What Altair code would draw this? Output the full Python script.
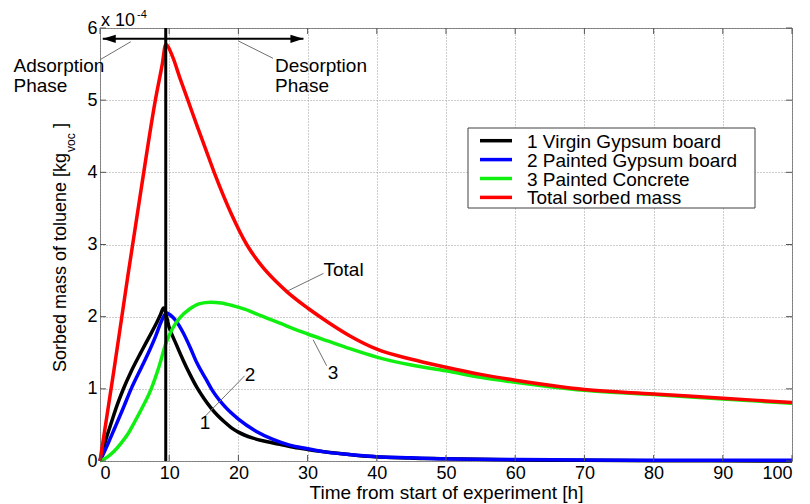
import altair as alt
import pandas as pd

# ---------------- data (mass in 1e-4 kg) ----------------
series_names = ["1 Virgin Gypsum board", "2 Painted Gypsum board",
                "3 Painted Concrete", "Total sorbed mass"]
series_colors = ["#000000", "#0000ff", "#10f010", "#ff0000"]

t_virgin = [0, 0.8, 1.7, 2.5, 3.3, 4.5, 6, 7, 8, 8.7, 9.2, 10, 11, 12, 13, 14, 15,
            16, 17, 18, 19, 20, 22, 24, 26, 28, 30, 34, 38, 42, 50, 60, 70, 80, 100]
m_virgin = [0, 0.28, 0.55, 0.78, 0.98, 1.24, 1.52, 1.7, 1.88, 2.02, 2.12, 1.85,
            1.62, 1.4, 1.2, 1.02, 0.87, 0.74, 0.63, 0.54, 0.46, 0.4, 0.32, 0.27,
            0.23, 0.19, 0.16, 0.11, 0.07, 0.05, 0.03, 0.015, 0.01, 0.005, 0.0]

t_painted = [0, 1.2, 2.1, 3.3, 4.5, 6, 7, 8, 8.8, 9.6, 10.2, 11, 12, 13, 14, 15.4,
             16.1, 17.8, 20, 22.6, 25, 27.4, 30, 32.2, 36, 40, 45, 50, 60, 70, 80, 100]
m_painted = [0, 0.25, 0.45, 0.72, 1.0, 1.3, 1.5, 1.72, 1.92, 2.05, 2.02, 1.94, 1.78,
             1.58, 1.36, 1.12, 1.0, 0.78, 0.58, 0.41, 0.3, 0.22, 0.17, 0.13, 0.09,
             0.06, 0.045, 0.03, 0.02, 0.015, 0.01, 0.01]

t_concrete = [0, 1, 2, 3, 4, 5, 6, 7.4, 8.5, 9.6, 10.5, 11.5, 13, 14.4, 16, 17.5,
              19.3, 21, 22.6, 24.1, 26, 28, 30, 33, 36, 40, 45, 50, 55, 60, 65, 70,
              80, 90, 100]
m_concrete = [0, 0.05, 0.13, 0.24, 0.37, 0.54, 0.72, 1.0, 1.3, 1.65, 1.84, 1.98,
              2.11, 2.18, 2.2, 2.19, 2.15, 2.1, 2.04, 1.98, 1.91, 1.83, 1.76, 1.66,
              1.56, 1.44, 1.33, 1.25, 1.16, 1.09, 1.03, 0.98, 0.92, 0.86, 0.80]

t_total = [0, 2, 4, 6, 8, 9, 9.5, 10.5, 11.5, 12.7, 14, 15.2, 16.5, 19, 21.2, 23.4,
           25.3, 27.2, 30, 33, 36, 40, 45, 50, 55, 60, 65, 70, 80, 90, 100]
m_total = [0, 1.25, 2.55, 3.8, 5.0, 5.5, 5.77, 5.6, 5.32, 5.0, 4.65, 4.34, 4.0,
           3.42, 3.0, 2.7, 2.5, 2.33, 2.12, 1.92, 1.74, 1.55, 1.41, 1.3, 1.2, 1.12,
           1.05, 0.99, 0.93, 0.87, 0.81]

phase_switch_t = 9.5          # vertical line (end of adsorption)
arrow_t = [0.4, 29.4]
arrow_m = 5.85

x_ticks = list(range(0, 101, 10))
y_ticks = [0, 1, 2, 3, 4, 5, 6]

ann_labels = ["Adsorption\nPhase", "Desorption\nPhase", "Total", "3", "2", "1"]
ann_t = [-12.5, 25.3, 32.3, 32.9, 20.9, 14.4]
ann_m = [5.39, 5.39, 2.56, 1.14, 1.11, 0.44]

lead_t0 = [0.0, 20.0, 27.2, 30.8, 15.2]
lead_m0 = [5.56, 5.82, 2.36, 1.68, 0.62]
lead_t1 = [4.45, 25.0, 32.3, 32.75, 20.9]
lead_m1 = [5.81, 5.58, 2.6, 1.32, 1.18]

# ---------------- build tables ----------------
rows = []
for name, ts, ms in zip(series_names,
                        [t_virgin, t_painted, t_concrete, t_total],
                        [m_virgin, m_painted, m_concrete, m_total]):
    for t, m in zip(ts, ms):
        rows.append({"series": name, "t": t, "m": m})
df = pd.DataFrame(rows)

FONT = "Liberation Sans"
FS = 18
FS_T = 19
W, H = 692, 433
TICK = 6
OY = 2  # vertical offset of pixel-placed items (plot top sits at page y 28)

xs = alt.Scale(domain=[0, 100], nice=False, zero=False)
ys = alt.Scale(domain=[0, 6], nice=False, zero=False)
cs = alt.Scale(domain=series_names, range=series_colors)

xaxis = alt.Axis(values=x_ticks, grid=True, gridDash=[1, 2], gridColor="#9a9a9a",
                 domain=False, ticks=False, labelFontSize=FS, labelPadding=3,
                 labelColor="black", labelFont=FONT,
                 title="Time from start of experiment [h]", titleFontSize=FS_T,
                 titleFontWeight="normal", titleFont=FONT, titleColor="black",
                 titlePadding=1)
yaxis = alt.Axis(values=y_ticks, grid=True, gridDash=[1, 2], gridColor="#9a9a9a",
                 domain=False, ticks=False, labelFontSize=FS, labelPadding=3,
                 labelColor="black", labelFont=FONT, title=None)


def X(f):
    return alt.X(f, scale=xs, axis=xaxis)


def Y(f):
    return alt.Y(f, scale=ys, axis=yaxis)


base = alt.Chart(df)

layers = []
for name in series_names:
    layers.append(base.transform_filter(alt.datum.series == name)
                  .mark_line(strokeWidth=3.5, interpolate="monotone").encode(
        x=X("t:Q"), y=Y("m:Q"),
        color=alt.Color("series:N", scale=cs, legend=None),
        order="t:Q"))

# inward ticks on the box
xt_df = pd.DataFrame({"v": x_ticks})
yt_df = pd.DataFrame({"v": y_ticks})
tick_style = dict(color="#555555", strokeWidth=1)
ticks_b = alt.Chart(xt_df).mark_rule(**tick_style).encode(
    x=X("v:Q"), y=alt.value(H), y2=alt.value(H - TICK))
ticks_t = alt.Chart(xt_df).mark_rule(**tick_style).encode(
    x=X("v:Q"), y=alt.value(0), y2=alt.value(TICK))
ticks_l = alt.Chart(yt_df).mark_rule(**tick_style).encode(
    y=Y("v:Q"), x=alt.value(0), x2=alt.value(TICK))
ticks_r = alt.Chart(yt_df).mark_rule(**tick_style).encode(
    y=Y("v:Q"), x=alt.value(W), x2=alt.value(W - TICK))

# vertical phase line
vline = alt.Chart(pd.DataFrame({"t": [phase_switch_t], "a": [0], "b": [6]})).mark_rule(
    color="black", strokeWidth=3).encode(x=X("t:Q"), y=Y("a:Q"), y2="b:Q")

# arrow
arrow_df = pd.DataFrame({"t0": [arrow_t[0]], "t1": [arrow_t[1]], "m": [arrow_m]})
arrow_line = alt.Chart(arrow_df).mark_rule(color="black", strokeWidth=2).encode(
    x=X("t0:Q"), x2="t1:Q", y=Y("m:Q"))
head_l = alt.Chart(pd.DataFrame({"t": [arrow_t[0]], "m": [arrow_m]})).mark_point(
    shape="M0,0L1,-0.32L1,0.32Z", filled=True, size=676, color="black", opacity=1,
    strokeWidth=0).encode(x=X("t:Q"), y=Y("m:Q"))
head_r = alt.Chart(pd.DataFrame({"t": [arrow_t[1]], "m": [arrow_m]})).mark_point(
    shape="M0,0L-1,-0.32L-1,0.32Z", filled=True, size=676, color="black", opacity=1,
    strokeWidth=0).encode(x=X("t:Q"), y=Y("m:Q"))

# leader lines
lead_df = pd.DataFrame({"t0": lead_t0, "m0": lead_m0, "t1": lead_t1, "m1": lead_m1})
leaders = alt.Chart(lead_df).mark_rule(color="#707070", strokeWidth=1).encode(
    x=X("t0:Q"), y=Y("m0:Q"), x2="t1:Q", y2="m1:Q")

# annotation texts
ann_df = pd.DataFrame({"label": ann_labels, "t": ann_t, "m": ann_m})
ann = alt.Chart(ann_df).mark_text(align="left", baseline="alphabetic", fontSize=FS_T,
                                  font=FONT, color="black", lineBreak="\n",
                                  lineHeight=20).encode(
    x=X("t:Q"), y=Y("m:Q"), text="label:N")

# exponent label
exp_main = alt.Chart(pd.DataFrame({"s": ["x 10"]})).mark_text(
    align="left", baseline="alphabetic", fontSize=18, font=FONT, color="black").encode(
    x=alt.value(1), y=alt.value(-4 + OY), text="s:N")
exp_sup = alt.Chart(pd.DataFrame({"s": ["-4"]})).mark_text(
    align="left", baseline="alphabetic", fontSize=11, font=FONT, color="black").encode(
    x=alt.value(37), y=alt.value(-12 + OY), text="s:N")

# y axis title with subscript
yt1 = alt.Chart(pd.DataFrame({"s": ["Sorbed mass of toluene [kg"]})).mark_text(
    align="left", baseline="alphabetic", angle=270, fontSize=FS, font=FONT,
    color="black").encode(x=alt.value(-34), y=alt.value(342 + OY), text="s:N")
yt2 = alt.Chart(pd.DataFrame({"s": ["voc"]})).mark_text(
    align="left", baseline="alphabetic", angle=270, fontSize=12, font=FONT,
    color="black").encode(x=alt.value(-25), y=alt.value(122 + OY), text="s:N")
yt3 = alt.Chart(pd.DataFrame({"s": ["]"]})).mark_text(
    align="left", baseline="alphabetic", angle=270, fontSize=FS, font=FONT,
    color="black").encode(x=alt.value(-34), y=alt.value(98 + OY), text="s:N")

# manual legend
leg_df = pd.DataFrame({"series": series_names, "idx": list(range(len(series_names)))})
leg_box = alt.Chart(pd.DataFrame({"a": [0]})).mark_rect(
    fill="white", stroke="#404040", strokeWidth=1).encode(
    x=alt.value(368), x2=alt.value(655), y=alt.value(98 + OY), y2=alt.value(178 + OY))
row_expr = f"{110.7 + OY} + datum.idx * 18.9"
leg_lines = alt.Chart(leg_df).transform_calculate(py=row_expr).mark_rule(
    strokeWidth=3.5).encode(
    x=alt.value(380), x2=alt.value(412), y=alt.Y("py:Q", scale=None),
    color=alt.Color("series:N", scale=cs, legend=None))
leg_text = alt.Chart(leg_df).transform_calculate(py=row_expr).mark_text(
    align="left", baseline="middle", fontSize=FS_T, font=FONT, color="black", dy=1).encode(
    x=alt.value(427), y=alt.Y("py:Q", scale=None), text="series:N")

chart = alt.layer(
    *layers, ticks_b, ticks_t, ticks_l, ticks_r, vline, arrow_line, head_l, head_r,
    leaders, ann, exp_main, exp_sup, yt1, yt2, yt3, leg_box, leg_lines, leg_text
).properties(
    width=W, height=H,
    autosize=alt.AutoSizeParams(type="none"),
    padding={"left": 92, "top": 20, "right": 10, "bottom": 43},
    background="white",
).configure(font=FONT).configure_view(stroke="#7a7a7a", strokeWidth=1)

chart.save("out.html", embed_options={"renderer": "svg", "actions": False})
